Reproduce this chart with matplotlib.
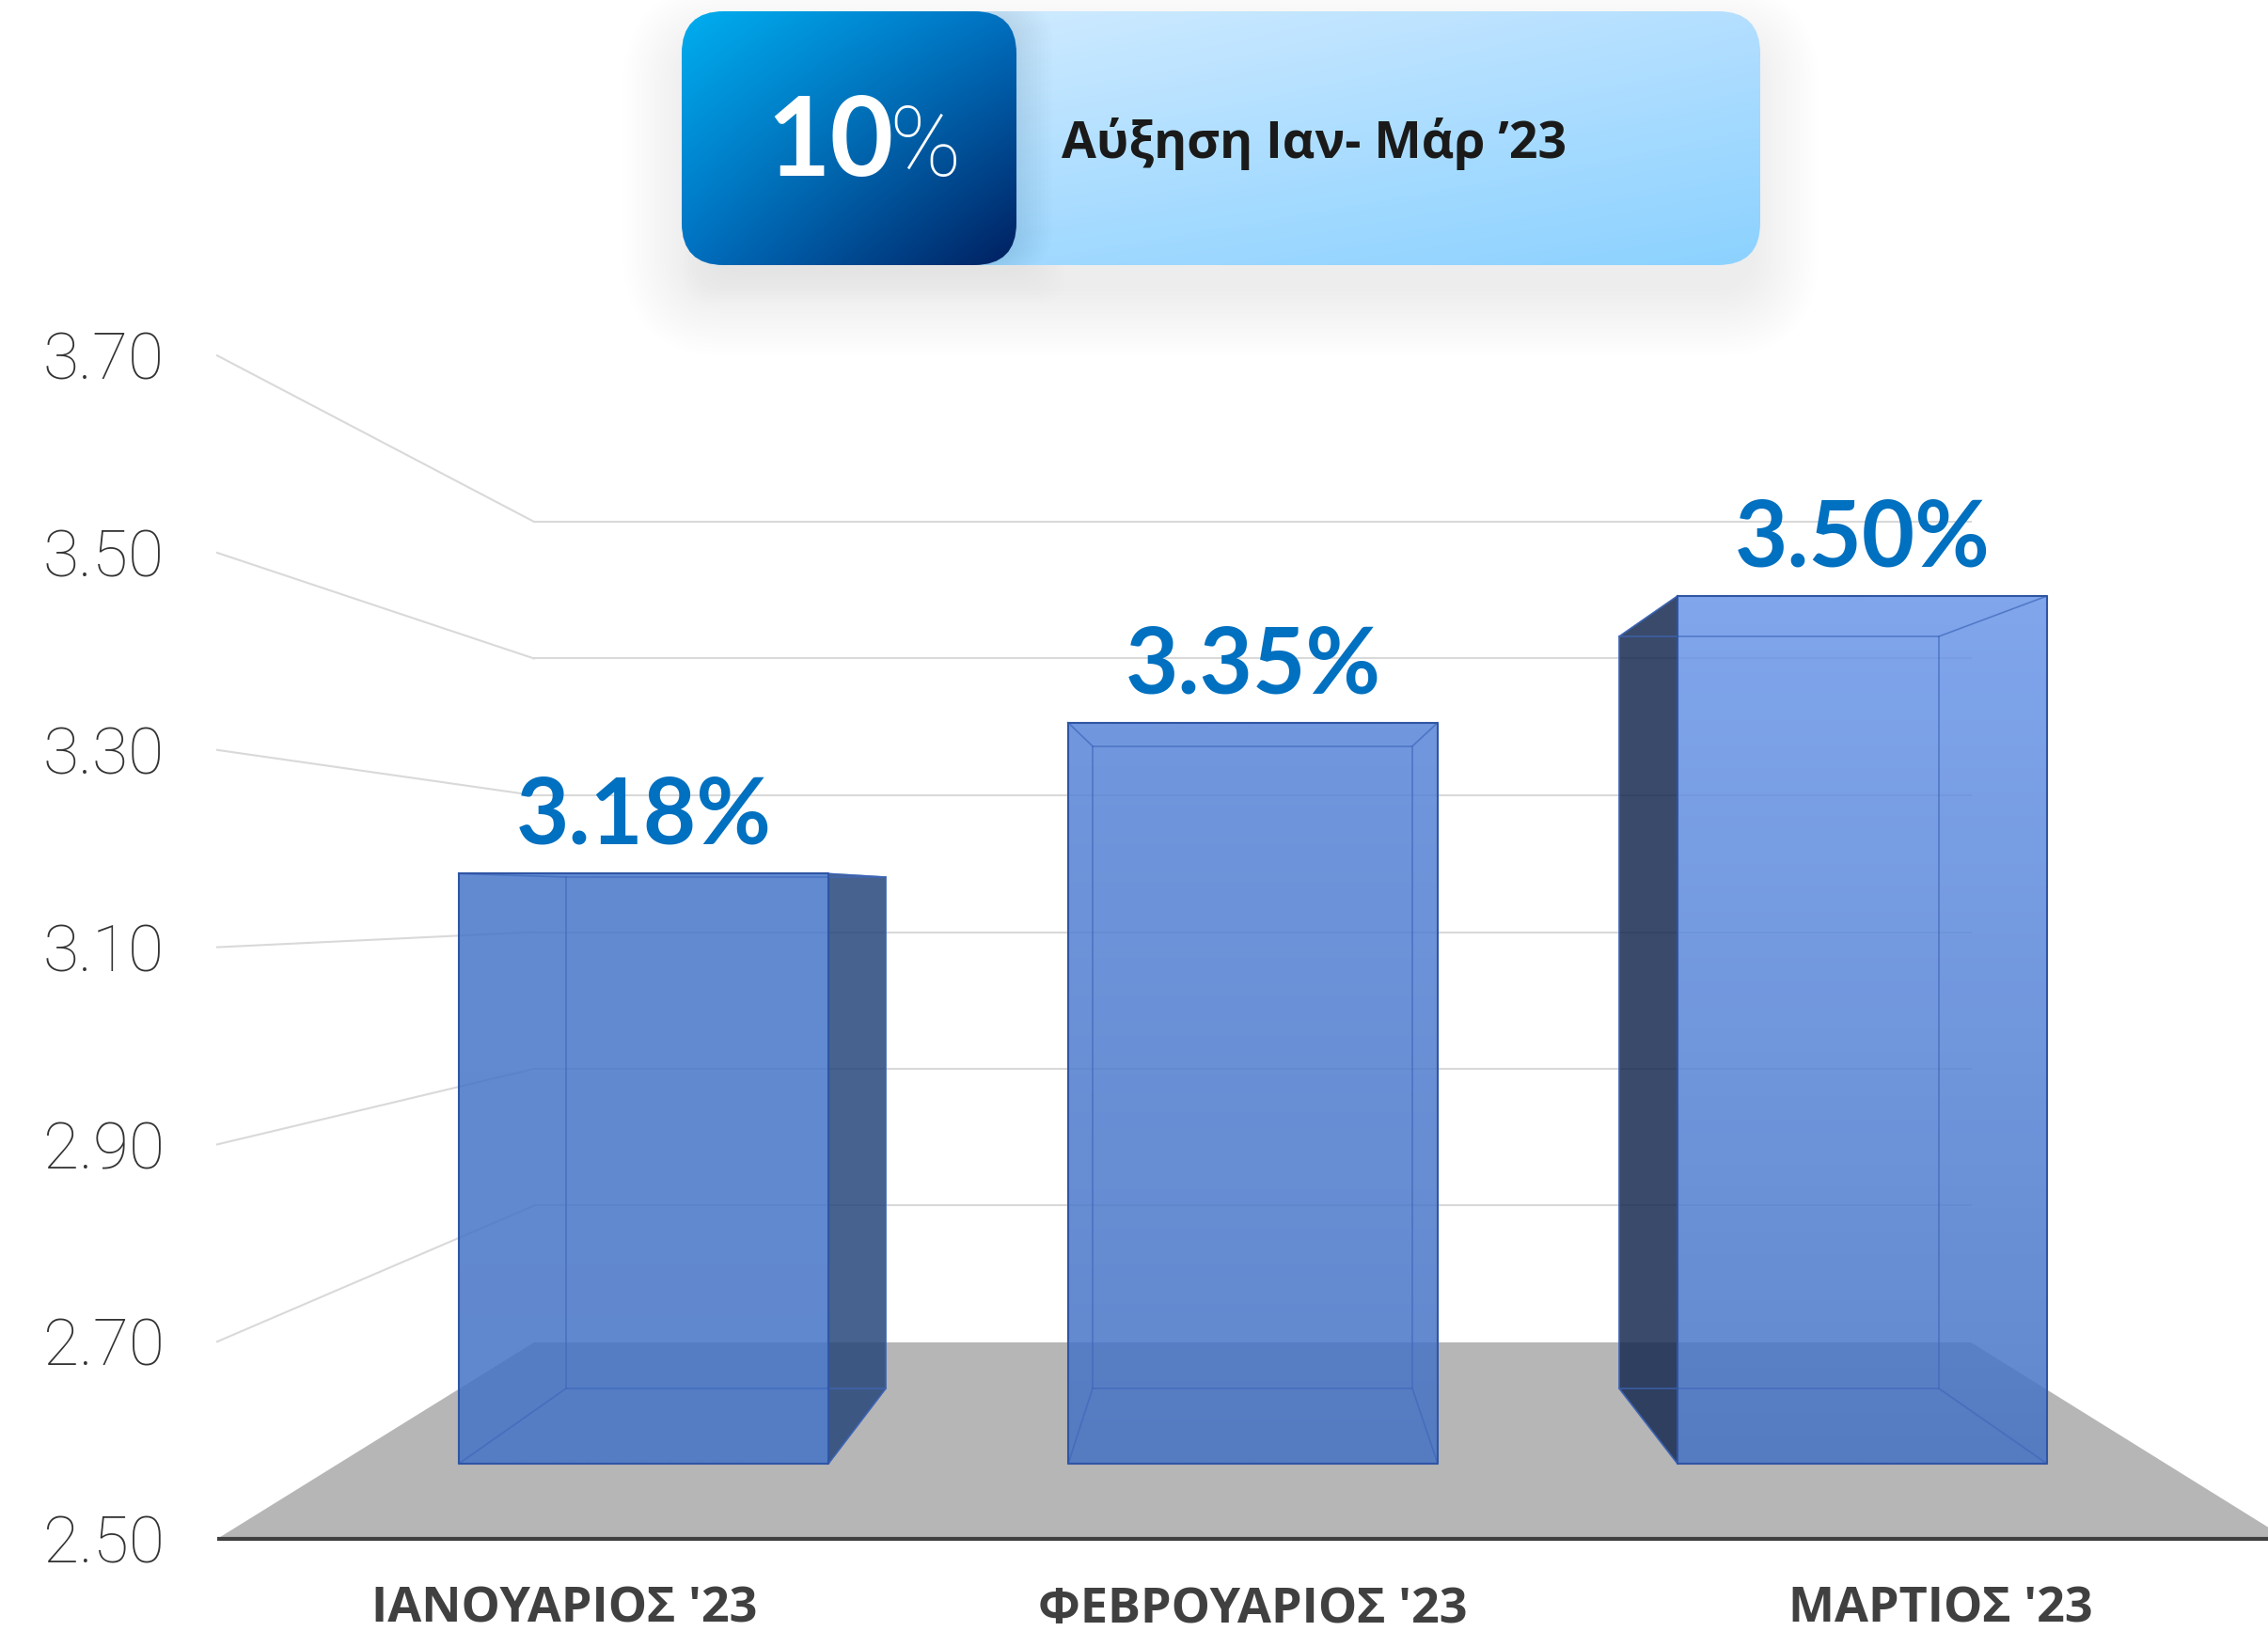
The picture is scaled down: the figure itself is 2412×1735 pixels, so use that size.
#!/usr/bin/env python3
# -*- coding: UTF-8 -*-
import numpy as np
import matplotlib as mpl
mpl.use('Agg')
import matplotlib.pyplot as plt
from matplotlib.patches import Polygon, FancyBboxPatch
from matplotlib.colors import to_rgb

months = ["ΙΑΝΟΥΑΡΙΟΣ '23", "ΦΕΒΡΟΥΑΡΙΟΣ '23", "ΜΑΡΤΙΟΣ '23"]
rates = [3.18, 3.354, 3.50]
rate_labels = ["3.18%", "3.35%", "3.50%"]
ticks = [2.50, 2.70, 2.90, 3.10, 3.30, 3.50, 3.70]
badge_value = "10%"
badge_text = "Αύξηση Ιαν- Μάρ ’23"

BASE = 2.5
W, H = 2412, 1735
FONT = ['Lato', 'Open Sans', 'DejaVu Sans']
GREEK = ['Open Sans', 'DejaVu Sans']
THIN = ['Roboto', 'Open Sans', 'DejaVu Sans']

plt.rcParams['font.family'] = FONT

# the fake 3d box: one scale for the front plane of the bars, one for their back,
# one each for the wall's left edge and the wall itself
def bar_front_y(v):
	return 1557 - (v - BASE) * 923

def bar_back_y(v):
	return 1477 - (v - BASE) * 800

def wall_left_y(v):
	return 1637 - (v - BASE) * 1049

def wall_back_y(v):
	return 1428 - (v - BASE) * 727.5

def gradient(ax, box, clip, c00, c10, c01, c11, alpha=1.0, zorder=2):
	# colours: top-left, top-right, bottom-left, bottom-right
	x0, y0, x1, y1 = box
	tx, ty = np.meshgrid(np.linspace(0, 1, 64), np.linspace(0, 1, 64))
	img = np.zeros((64, 64, 4))
	for i in range(3):
		top = to_rgb(c00)[i] * (1 - tx) + to_rgb(c10)[i] * tx
		bot = to_rgb(c01)[i] * (1 - tx) + to_rgb(c11)[i] * tx
		img[:, :, i] = top * (1 - ty) + bot * ty
	img[:, :, 3] = alpha
	im = ax.imshow(img, extent=(x0, x1, y1, y0), aspect='auto', zorder=zorder, interpolation='bilinear')
	im.set_clip_path(clip)

fig = plt.figure(figsize=(W / 100, H / 100), dpi=100)
ax = fig.add_axes([0, 0, 1, 1])
ax.axis('off')

# badge shadow, sits low, many thin layers so it fades without a visible step
for grow in range(-6, 66, 4):
	ax.add_patch(FancyBboxPatch((725 - grow, 46 - grow), 1147 + 2 * grow, 270 + 2 * grow,
		boxstyle='round,pad=0,rounding_size=%d' % (45 + max(grow, 0)), fc='black', ec='none', alpha=0.0045, zorder=1))
for grow in range(0, 36, 4):
	ax.add_patch(FancyBboxPatch((760 - grow, 40), 340 + 2 * grow, 250 + grow,
		boxstyle='round,pad=0,rounding_size=30', fc='black', ec='none', alpha=0.004, zorder=1))

# badge, light then dark part
light = FancyBboxPatch((725, 12), 1147, 270, boxstyle='round,pad=0,rounding_size=45', fc='none', ec='none', zorder=2)
ax.add_patch(light)
gradient(ax, (725, 12, 1872, 282), light, '#d8efff', '#b4dfff', '#aadcff', '#8cd2ff', zorder=2)
for grow in range(2, 42, 4):
	ax.add_patch(FancyBboxPatch((725, 12 - grow / 3), 356 + grow, 270 + grow / 2,
		boxstyle='round,pad=0,rounding_size=45', fc='black', ec='none', alpha=0.006, zorder=3, clip_path=light))
dark = FancyBboxPatch((725, 12), 356, 270, boxstyle='round,pad=0,rounding_size=45', fc='none', ec='none', zorder=4)
ax.add_patch(dark)
gradient(ax, (725, 12, 1081, 282), dark, '#00aeef', '#0070c0', '#0070c0', '#002060', zorder=4)
ax.text(883, 154, badge_value[:-1], color='white', fontsize=84, fontweight='bold', ha='center', va='center', zorder=5)
ax.text(984, 158, badge_value[-1], color='white', fontsize=74, fontweight='light', family=THIN, ha='center', va='center', zorder=5)
ax.text(1129, 153, badge_text, color='#1a1a1a', fontsize=38.5, fontweight='bold', family=GREEK, ha='left', va='center', zorder=5)

# floor
ax.add_patch(Polygon([(231, 1637), (568, 1428), (2096, 1428), (2432, 1637)], closed=True, fc='#b6b6b6', ec='none', zorder=1))

# grid lines on the left wall and the back wall
for t in ticks:
	if t > BASE:
		ax.plot([231, 568], [wall_left_y(t), wall_back_y(t)], color='#d9d9d9', lw=1.5, zorder=1.5)
		ax.plot([568, 2096], [wall_back_y(t), wall_back_y(t)], color='#d9d9d9', lw=1.5, zorder=1.5)
	ax.text(175, wall_left_y(t), '%.2f' % t, color='#333333', fontsize=50, fontweight='light', family=THIN, ha='right', va='center_baseline')
ax.plot([231, W], [1637, 1637], color='#404040', lw=3, zorder=2, solid_capstyle='butt')

# bars
front_left = [488, 1136, 1784]
back_left = [602, 1162, 1722]
front_w, back_w = 393, 340
top_cols = ['#4776ca', '#5784d8', '#6a96e9']
bot_cols = ['#4373c7', '#4472c4', '#4472c4']
side_cols = ['#28467b', '#28467b', '#172a51']
edge = '#2f55a4'
inner = '#3f68bb'
for i in range(len(rates)):
	fl, fr = front_left[i], front_left[i] + front_w
	bl, br = back_left[i], back_left[i] + back_w
	ft, fb = bar_front_y(rates[i]), bar_front_y(BASE)
	bt, bb = bar_back_y(rates[i]), bar_back_y(BASE)
	if br > fr:
		ax.add_patch(Polygon([(fr, ft), (br, bt), (br, bb), (fr, fb)], closed=True, fc=side_cols[i], ec=edge, lw=1, alpha=0.85, zorder=3))
	if bl < fl:
		ax.add_patch(Polygon([(bl, bt), (fl, ft), (fl, fb), (bl, bb)], closed=True, fc=side_cols[i], ec=edge, lw=1, alpha=0.85, zorder=3))
	face = Polygon([(fl, ft), (fr, ft), (fr, fb), (fl, fb)], closed=True, fc='none', ec='none', zorder=3)
	ax.add_patch(face)
	gradient(ax, (fl, ft, fr, fb), face, top_cols[i], top_cols[i], bot_cols[i], bot_cols[i], alpha=0.85, zorder=3)
	# box edges
	ax.plot([bl, br, br, bl, bl], [bt, bt, bb, bb, bt], color=inner, lw=1.2, alpha=0.7, zorder=4)
	for cx, cy, dx, dy in [(fl, ft, bl, bt), (fr, ft, br, bt), (fr, fb, br, bb), (fl, fb, bl, bb)]:
		ax.plot([cx, dx], [cy, dy], color=inner, lw=1.2, alpha=0.7, zorder=4)
	ax.plot([fl, fr, fr, fl, fl], [ft, ft, fb, fb, ft], color=edge, lw=1.5, zorder=4)
	ax.text((fl + fr) / 2, ft - 60, rate_labels[i], color='#0070c0', fontsize=70, fontweight='bold', ha='center', va='center', zorder=5)

# months are centred on the middle of the box, not on its front face
month_x = [600, 1332, 2064]
for i in range(len(months)):
	ax.text(month_x[i], 1712, months[i], color='#404040', fontsize=37.5, fontweight='bold', family=GREEK, ha='center', va='center')

ax.set_xlim(0, W)
ax.set_ylim(H, 0)
fig.savefig('out.png', dpi=100)
